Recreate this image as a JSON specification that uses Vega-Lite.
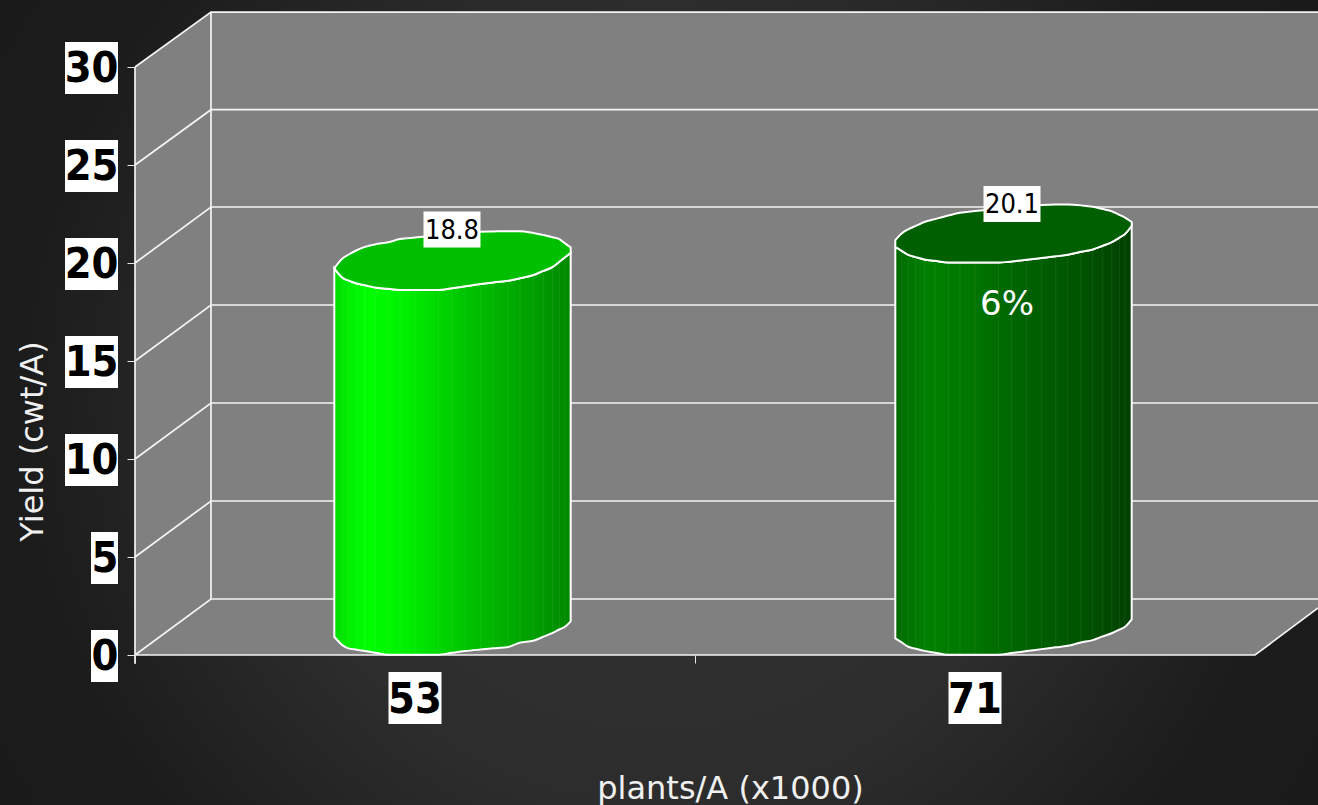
{
  "$schema": "https://vega.github.io/schema/vega-lite/v6.json",
  "width": 1318,
  "height": 805,
  "padding": 0,
  "autosize": {"type": "none"},
  "background": "#1c1c1c",
  "config": {"view": {"stroke": null}, "font": "DejaVu Sans Condensed"},
  "datasets": {
    "bars": [
      {"plants": "53", "slot": 0.5, "yield": 18.8, "gain": ""},
      {"plants": "71", "slot": 1.5, "yield": 20.1, "gain": "6%"}
    ],
    "ticks": [
      {"c": 0, "tick": 0}, {"c": 0, "tick": 5}, {"c": 0, "tick": 10}, {"c": 0, "tick": 15},
      {"c": 0, "tick": 20}, {"c": 0, "tick": 25}, {"c": 0, "tick": 30}
    ],
    "surfaces": [
      {"surface": "left", "c": 0, "low": 0, "high": 30},
      {"surface": "left", "c": 0.1357, "low": 2.857, "high": 32.8},
      {"surface": "back", "c": 0.1357, "low": 2.857, "high": 32.8},
      {"surface": "back", "c": 2.1125, "low": 2.857, "high": 32.8},
      {"surface": "floor", "c": 0, "low": 0, "high": 0},
      {"surface": "floor", "c": 0.1357, "low": 0, "high": 2.857},
      {"surface": "floor", "c": 2, "low": 0, "high": 2.857},
      {"surface": "floor", "c": 2.1125, "low": 2.398, "high": 2.857}
    ],
    "wallLines": [
      {"line": "g0", "c": 0, "v": 0}, {"line": "g0", "c": 0.1357, "v": 2.857}, {"line": "g0", "c": 2.1125, "v": 2.857},
      {"line": "g5", "c": 0, "v": 5}, {"line": "g5", "c": 0.1357, "v": 7.857}, {"line": "g5", "c": 2.1125, "v": 7.857},
      {"line": "g10", "c": 0, "v": 10}, {"line": "g10", "c": 0.1357, "v": 12.857}, {"line": "g10", "c": 2.1125, "v": 12.857},
      {"line": "g15", "c": 0, "v": 15}, {"line": "g15", "c": 0.1357, "v": 17.857}, {"line": "g15", "c": 2.1125, "v": 17.857},
      {"line": "g20", "c": 0, "v": 20}, {"line": "g20", "c": 0.1357, "v": 22.857}, {"line": "g20", "c": 2.1125, "v": 22.857},
      {"line": "g25", "c": 0, "v": 25}, {"line": "g25", "c": 0.1357, "v": 27.82}, {"line": "g25", "c": 2.1125, "v": 27.82},
      {"line": "g30", "c": 0, "v": 30}, {"line": "g30", "c": 0.1357, "v": 32.8}, {"line": "g30", "c": 2.1125, "v": 32.8},
      {"line": "front", "c": 0, "v": 0}, {"line": "front", "c": 2, "v": 0}, {"line": "front", "c": 2.1125, "v": 2.398}
    ],
    "posts": [
      {"c": 0, "low": -0.45, "high": 30},
      {"c": 0.1357, "low": 2.857, "high": 32.8}
    ],
    "cylinders": [
      {"plants": "53", "c": 0.3559, "base": 0.93, "rimFront": 19.73, "rimBack": 19.73},
      {"plants": "53", "c": 0.3709, "base": 0.49, "rimFront": 19.24, "rimBack": 20.24},
      {"plants": "53", "c": 0.3809, "base": 0.34, "rimFront": 19.11, "rimBack": 20.42},
      {"plants": "53", "c": 0.3959, "base": 0.27, "rimFront": 18.95, "rimBack": 20.65},
      {"plants": "53", "c": 0.4107, "base": 0.2, "rimFront": 18.86, "rimBack": 20.82},
      {"plants": "53", "c": 0.4286, "base": 0.12, "rimFront": 18.75, "rimBack": 20.95},
      {"plants": "53", "c": 0.4523, "base": 0.015, "rimFront": 18.68, "rimBack": 21.06},
      {"plants": "53", "c": 0.4732, "base": 0.015, "rimFront": 18.62, "rimBack": 21.22},
      {"plants": "53", "c": 0.5, "base": 0.015, "rimFront": 18.62, "rimBack": 21.3},
      {"plants": "53", "c": 0.5416, "base": 0.015, "rimFront": 18.62, "rimBack": 21.41},
      {"plants": "53", "c": 0.5655, "base": 0.11, "rimFront": 18.71, "rimBack": 21.47},
      {"plants": "53", "c": 0.5893, "base": 0.2, "rimFront": 18.81, "rimBack": 21.53},
      {"plants": "53", "c": 0.6173, "base": 0.28, "rimFront": 18.93, "rimBack": 21.6},
      {"plants": "53", "c": 0.6398, "base": 0.34, "rimFront": 19.01, "rimBack": 21.61},
      {"plants": "53", "c": 0.6666, "base": 0.41, "rimFront": 19.09, "rimBack": 21.62},
      {"plants": "53", "c": 0.6875, "base": 0.63, "rimFront": 19.22, "rimBack": 21.62},
      {"plants": "53", "c": 0.7113, "base": 0.73, "rimFront": 19.39, "rimBack": 21.53},
      {"plants": "53", "c": 0.7291, "base": 0.93, "rimFront": 19.6, "rimBack": 21.43},
      {"plants": "53", "c": 0.7459, "base": 1.13, "rimFront": 19.8, "rimBack": 21.31},
      {"plants": "53", "c": 0.7577, "base": 1.3, "rimFront": 20.06, "rimBack": 21.22},
      {"plants": "53", "c": 0.7679, "base": 1.44, "rimFront": 20.29, "rimBack": 21.0},
      {"plants": "53", "c": 0.778, "base": 1.72, "rimFront": 20.52, "rimBack": 20.8},
      {"plants": "71", "c": 1.3577, "base": 0.85, "rimFront": 20.83, "rimBack": 21.17},
      {"plants": "71", "c": 1.3691, "base": 0.64, "rimFront": 20.62, "rimBack": 21.51},
      {"plants": "71", "c": 1.3809, "base": 0.42, "rimFront": 20.41, "rimBack": 21.72},
      {"plants": "71", "c": 1.3941, "base": 0.32, "rimFront": 20.3, "rimBack": 21.89},
      {"plants": "71", "c": 1.4095, "base": 0.21, "rimFront": 20.18, "rimBack": 22.09},
      {"plants": "71", "c": 1.4286, "base": 0.12, "rimFront": 20.11, "rimBack": 22.24},
      {"plants": "71", "c": 1.4523, "base": 0.015, "rimFront": 20.03, "rimBack": 22.42},
      {"plants": "71", "c": 1.4732, "base": 0.015, "rimFront": 20.02, "rimBack": 22.56},
      {"plants": "71", "c": 1.5, "base": 0.015, "rimFront": 20.02, "rimBack": 22.65},
      {"plants": "71", "c": 1.5416, "base": 0.015, "rimFront": 20.02, "rimBack": 22.77},
      {"plants": "71", "c": 1.5655, "base": 0.1, "rimFront": 20.08, "rimBack": 22.83},
      {"plants": "71", "c": 1.5923, "base": 0.2, "rimFront": 20.16, "rimBack": 22.9},
      {"plants": "71", "c": 1.6191, "base": 0.3, "rimFront": 20.25, "rimBack": 22.96},
      {"plants": "71", "c": 1.6441, "base": 0.39, "rimFront": 20.34, "rimBack": 22.98},
      {"plants": "71", "c": 1.6655, "base": 0.47, "rimFront": 20.42, "rimBack": 22.98},
      {"plants": "71", "c": 1.6893, "base": 0.64, "rimFront": 20.57, "rimBack": 22.94},
      {"plants": "71", "c": 1.7102, "base": 0.76, "rimFront": 20.69, "rimBack": 22.87},
      {"plants": "71", "c": 1.728, "base": 0.95, "rimFront": 20.88, "rimBack": 22.75},
      {"plants": "71", "c": 1.7441, "base": 1.11, "rimFront": 21.06, "rimBack": 22.64},
      {"plants": "71", "c": 1.7577, "base": 1.29, "rimFront": 21.29, "rimBack": 22.46},
      {"plants": "71", "c": 1.7679, "base": 1.44, "rimFront": 21.48, "rimBack": 22.32},
      {"plants": "71", "c": 1.7798, "base": 1.82, "rimFront": 21.9, "rimBack": 22.09}
    ]
  },
  "encoding": {
    "x": {
      "field": "c",
      "type": "quantitative",
      "scale": {"domain": [-0.24107, 2.1125], "nice": false, "zero": false},
      "axis": {
        "orient": "bottom",
        "offset": -150,
        "values": [0, 1],
        "domain": false,
        "grid": false,
        "labels": false,
        "ticks": true,
        "tickSize": 8,
        "tickColor": "#e8e8e8",
        "tickWidth": 1,
        "title": "plants/A (x1000)",
        "titleColor": "#f0f0f0",
        "titleFont": "DejaVu Sans",
        "titleFontSize": 32,
        "titleFontWeight": "normal",
        "titleBaseline": "alphabetic",
        "titleX": 730,
        "titleY": 143,
        "titleAnchor": "middle",
        "zindex": 1
      }
    }
  },
  "layer": [
    {
      "description": "Slide backdrop: a square sheet centred on the slide so the glow stays circular",
      "data": {"values": [{"c": -0.24107, "cEnd": 2.1125, "low": -20.71, "high": 46.53}]},
      "mark": {
        "type": "rect",
        "fill": {
          "gradient": "radial",
          "x1": 0.5, "y1": 0.5, "r1": 0,
          "x2": 0.5, "y2": 0.5, "r2": 0.6,
          "stops": [
            {"offset": 0, "color": "#343434"},
            {"offset": 0.5, "color": "#2d2d2d"},
            {"offset": 0.8, "color": "#1c1c1c"},
            {"offset": 1, "color": "#1a1a1a"}
          ]
        }
      },
      "encoding": {
        "x2": {"field": "cEnd"},
        "y": {
          "field": "low",
          "type": "quantitative",
          "scale": {"domain": [-7.653, 33.418], "nice": false, "zero": false},
          "axis": {
            "orient": "left",
            "offset": -135,
            "values": [0, 5, 10, 15, 20, 25, 30],
            "domain": false,
            "grid": false,
            "tickSize": 8,
            "tickColor": "#e8e8e8",
            "tickWidth": 1,
            "labelPadding": 9,
            "labelOffset": 2,
            "labelFont": "DejaVu Sans Condensed",
            "labelFontSize": 43,
            "labelFontWeight": "bold",
            "labelColor": "#000000",
            "labelOverlap": false,
            "labelFlush": false,
            "title": "Yield (cwt/A)",
            "titleColor": "#f0f0f0",
            "titleFont": "DejaVu Sans",
            "titleFontSize": 32,
            "titleFontWeight": "normal",
            "titleBaseline": "alphabetic",
            "titleX": -93,
            "titleY": 441,
            "titleAngle": -90,
            "titleAnchor": "middle",
            "zindex": 1
          }
        },
        "y2": {"field": "high"}
      }
    },
    {
      "description": "Side wall, back wall and floor of the chart box",
      "data": {"name": "surfaces"},
      "mark": {"type": "area", "orient": "vertical", "fill": "#808080", "interpolate": "linear"},
      "encoding": {
        "y": {"field": "low", "type": "quantitative", "scale": {"domain": [-7.653, 33.418], "nice": false, "zero": false}, "stack": null},
        "y2": {"field": "high"},
        "detail": {"field": "surface"}
      }
    },
    {
      "description": "Gridlines wrapping the walls plus the front floor edge",
      "data": {"name": "wallLines"},
      "mark": {"type": "line", "stroke": "#f4f4f4", "strokeWidth": 1.7, "clip": true},
      "encoding": {
        "y": {"field": "v", "type": "quantitative", "scale": {"domain": [-7.653, 33.418], "nice": false, "zero": false}},
        "detail": {"field": "line"}
      }
    },
    {
      "description": "Vertical corner posts of the box",
      "data": {"name": "posts"},
      "mark": {"type": "rule", "stroke": "#f4f4f4", "strokeWidth": 1.7},
      "encoding": {
        "y": {"field": "low", "type": "quantitative", "scale": {"domain": [-7.653, 33.418], "nice": false, "zero": false}},
        "y2": {"field": "high"}
      }
    },
    {
      "description": "Body of the 53 cylinder",
      "data": {"name": "cylinders"},
      "transform": [{"filter": "datum.plants === '53'"}],
      "mark": {
        "type": "area",
        "orient": "vertical",
        "interpolate": "monotone",
        "stroke": "#ffffff",
        "strokeWidth": 2,
        "fill": {
          "gradient": "linear",
          "x1": 0, "y1": 0, "x2": 1, "y2": 0,
          "stops": [
            {"offset": 0, "color": "#00dc00"},
            {"offset": 0.13, "color": "#00ff00"},
            {"offset": 0.3, "color": "#00f000"},
            {"offset": 0.55, "color": "#00c400"},
            {"offset": 0.8, "color": "#00a400"},
            {"offset": 1, "color": "#008800"}
          ]
        }
      },
      "encoding": {
        "y": {"field": "base", "type": "quantitative", "scale": {"domain": [-7.653, 33.418], "nice": false, "zero": false}, "stack": null},
        "y2": {"field": "rimFront"}
      }
    },
    {
      "description": "Body of the 71 cylinder",
      "data": {"name": "cylinders"},
      "transform": [{"filter": "datum.plants === '71'"}],
      "mark": {
        "type": "area",
        "orient": "vertical",
        "interpolate": "monotone",
        "stroke": "#ffffff",
        "strokeWidth": 2,
        "fill": {
          "gradient": "linear",
          "x1": 0, "y1": 0, "x2": 1, "y2": 0,
          "stops": [
            {"offset": 0, "color": "#006a00"},
            {"offset": 0.13, "color": "#008000"},
            {"offset": 0.3, "color": "#007800"},
            {"offset": 0.55, "color": "#006200"},
            {"offset": 0.8, "color": "#005200"},
            {"offset": 1, "color": "#004000"}
          ]
        }
      },
      "encoding": {
        "y": {"field": "base", "type": "quantitative", "scale": {"domain": [-7.653, 33.418], "nice": false, "zero": false}, "stack": null},
        "y2": {"field": "rimFront"}
      }
    },
    {
      "description": "Faint seams between the facets of each cylinder",
      "data": {"name": "cylinders"},
      "mark": {"type": "rule", "stroke": "#ffffff", "strokeWidth": 1, "opacity": 0.07},
      "encoding": {
        "y": {"field": "base", "type": "quantitative", "scale": {"domain": [-7.653, 33.418], "nice": false, "zero": false}},
        "y2": {"field": "rimFront"}
      }
    },
    {
      "description": "Elliptical top of each cylinder",
      "data": {"name": "cylinders"},
      "mark": {"type": "area", "orient": "vertical", "interpolate": "monotone", "stroke": "#ffffff", "strokeWidth": 2},
      "encoding": {
        "y": {"field": "rimFront", "type": "quantitative", "scale": {"domain": [-7.653, 33.418], "nice": false, "zero": false}, "stack": null},
        "y2": {"field": "rimBack"},
        "color": {
          "field": "plants",
          "type": "nominal",
          "scale": {"domain": ["53", "71"], "range": ["#00bf00", "#005f00"]},
          "legend": null
        }
      }
    },
    {
      "description": "White plates behind the two-digit yield tick labels",
      "data": {"name": "ticks"},
      "transform": [{"filter": "datum.tick >= 10"}],
      "mark": {"type": "rect", "fill": "#ffffff", "width": 53, "height": 52, "xOffset": -43.5, "yOffset": 1},
      "encoding": {
        "y": {"field": "tick", "type": "quantitative", "scale": {"domain": [-7.653, 33.418], "nice": false, "zero": false}}
      }
    },
    {
      "description": "White plates behind the one-digit yield tick labels",
      "data": {"name": "ticks"},
      "transform": [{"filter": "datum.tick < 10"}],
      "mark": {"type": "rect", "fill": "#ffffff", "width": 27, "height": 52, "xOffset": -30.5, "yOffset": 1},
      "encoding": {
        "y": {"field": "tick", "type": "quantitative", "scale": {"domain": [-7.653, 33.418], "nice": false, "zero": false}}
      }
    },
    {
      "description": "White plates behind the plant density labels",
      "data": {"name": "bars"},
      "mark": {"type": "rect", "fill": "#ffffff", "width": 53, "height": 52, "yOffset": 43},
      "encoding": {
        "x": {"field": "slot", "type": "quantitative"},
        "y": {"datum": 0, "type": "quantitative", "scale": {"domain": [-7.653, 33.418], "nice": false, "zero": false}}
      }
    },
    {
      "description": "Plant density labels",
      "data": {"name": "bars"},
      "mark": {"type": "text", "font": "DejaVu Sans Condensed", "fontSize": 43, "fontWeight": "bold", "color": "#000000", "baseline": "middle", "yOffset": 45},
      "encoding": {
        "x": {"field": "slot", "type": "quantitative"},
        "y": {"datum": 0, "type": "quantitative", "scale": {"domain": [-7.653, 33.418], "nice": false, "zero": false}},
        "text": {"field": "plants"}
      }
    },
    {
      "description": "White plates behind the yield value labels",
      "data": {"name": "bars"},
      "mark": {"type": "rect", "fill": "#ffffff", "width": 57, "height": 36, "xOffset": 37, "yOffset": -57},
      "encoding": {
        "x": {"field": "slot", "type": "quantitative"},
        "y": {"field": "yield", "type": "quantitative", "scale": {"domain": [-7.653, 33.418], "nice": false, "zero": false}}
      }
    },
    {
      "description": "Yield value labels",
      "data": {"name": "bars"},
      "mark": {"type": "text", "font": "DejaVu Sans Condensed", "fontSize": 27, "color": "#000000", "baseline": "middle", "xOffset": 37, "yOffset": -56},
      "encoding": {
        "x": {"field": "slot", "type": "quantitative"},
        "y": {"field": "yield", "type": "quantitative", "scale": {"domain": [-7.653, 33.418], "nice": false, "zero": false}},
        "text": {"field": "yield", "format": ".1f"}
      }
    },
    {
      "description": "Percentage gain of the higher density",
      "data": {"name": "bars"},
      "mark": {"type": "text", "font": "DejaVu Sans", "fontSize": 34, "color": "#ffffff", "baseline": "middle", "xOffset": 32, "yOffset": 44},
      "encoding": {
        "x": {"field": "slot", "type": "quantitative"},
        "y": {"field": "yield", "type": "quantitative", "scale": {"domain": [-7.653, 33.418], "nice": false, "zero": false}},
        "text": {"field": "gain"}
      }
    }
  ]
}
